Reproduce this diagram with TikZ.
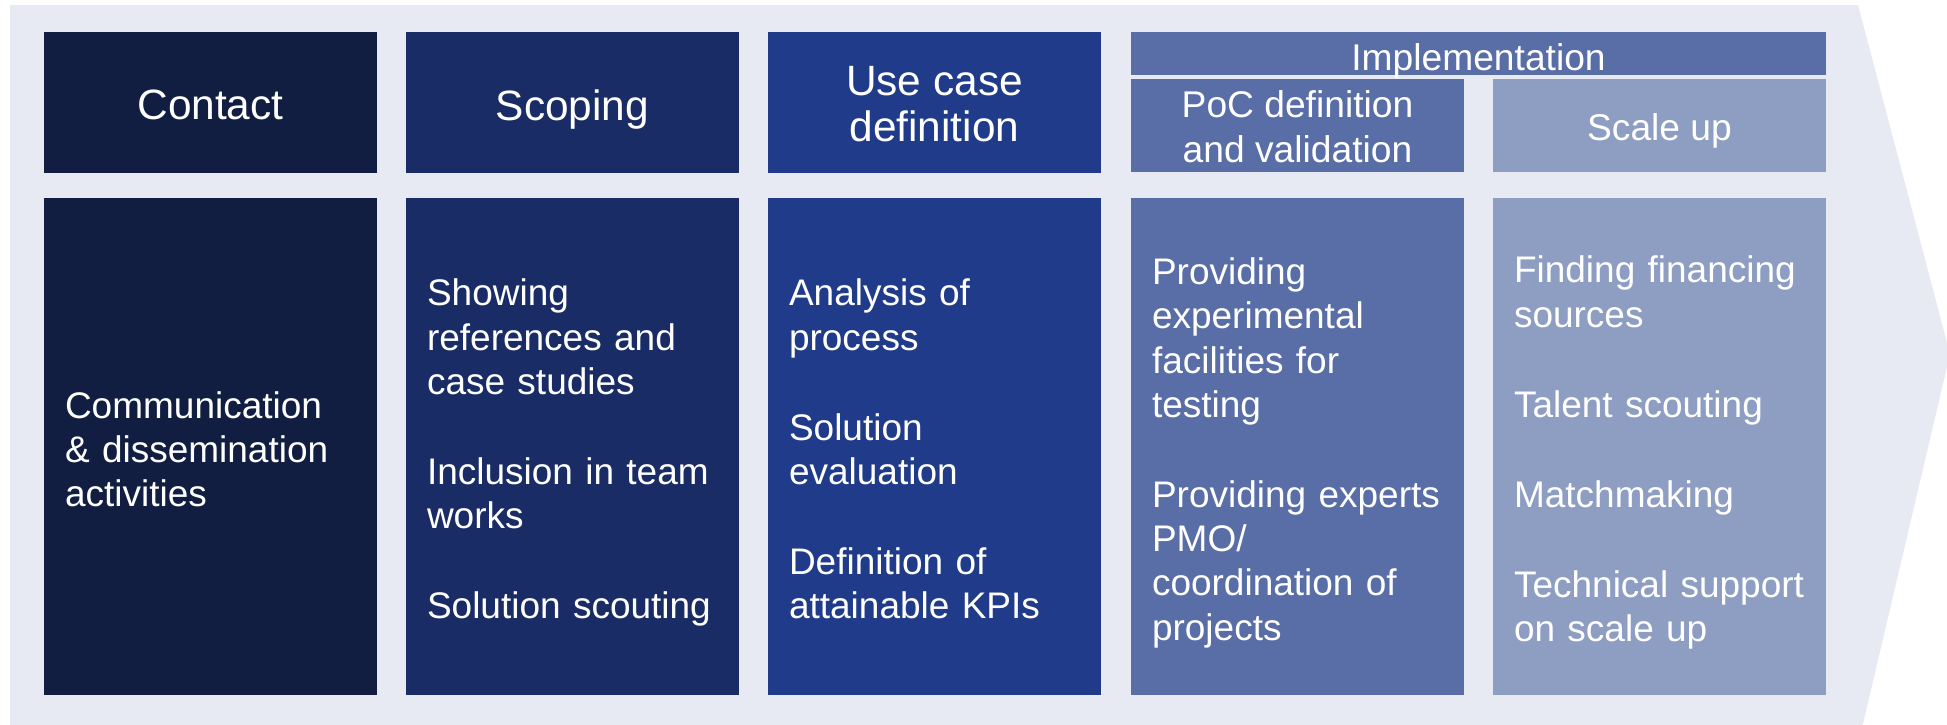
\documentclass[tikz,border=0pt]{standalone}
\usepackage{fontspec}
\setmainfont{Liberation Sans}
\definecolor{bgGray}{HTML}{E7EAF2}
\definecolor{cContact}{HTML}{111E42}
\definecolor{cScoping}{HTML}{1A2C66}
\definecolor{cUseCase}{HTML}{203B89}
\definecolor{cPoC}{HTML}{596DA6}
\definecolor{cScale}{HTML}{8E9DC2}

\begin{document}
\begin{tikzpicture}[x=0.5pt,y=-0.5pt]
  \tikzstyle{Box}=[inner sep=0pt,minimum width=166.5pt,text=white]
  \tikzstyle{Head}=[Box,minimum height=70.5pt,text depth=0pt,align=center,font=\fontsize{21.2}{23}\selectfont]
  \tikzstyle{Sub}=[Box,minimum height=46.5pt,text depth=0pt,align=center,font=\fontsize{18.6}{22.5}\selectfont]
  \tikzstyle{Body}=[Box,minimum height=248.5pt]
  \tikzstyle{BodyText}=[anchor=west,inner sep=0pt,yshift=-3.5pt,text=white,text width=152pt,align=left,font=\fontsize{18.5}{22.1}\selectfont]
  \tikzstyle{Label}=[text=white,inner sep=0pt]
  \clip (0,0) rectangle (1947,724);
  % arrow shaped background
  \fill[bgGray] (10,5) -- (1858,5) -- (1950,354) -- (1862,728) -- (10,728) -- cycle;
  % phase headers
  \node[Head,fill=cContact] (contact) at (210.5,102.5) {};
  \node[Head,fill=cScoping] (scoping) at (572.5,102.5) {};
  \node[Head,fill=cUseCase] (usecase) at (934.5,102.5) {};
  \node[Box,fill=cPoC,minimum width=347.5pt,minimum height=21.5pt] (impl) at (1478.5,53.5) {};
  \node[Sub,fill=cPoC] (poc) at (1297.5,125.5) {};
  \node[Sub,fill=cScale] (scale) at (1659.5,125.5) {};
  \node[Label,text depth=0pt,font=\fontsize{21.2}{23}\selectfont,yshift=-1.2pt] (contactLabel) at (contact) {Contact};
  \node[Label,text depth=0pt,font=\fontsize{21.2}{23}\selectfont,yshift=-1.2pt] (scopingLabel) at (scoping) {Scoping};
  \node[Label,align=center,text depth=0pt,font=\fontsize{21.2}{23}\selectfont,yshift=-0.6pt] (usecaseLabel) at (usecase) {Use case\\definition};
  \node[Label,text depth=0pt,font=\fontsize{18.6}{22.5}\selectfont,yshift=-1.8pt] (implLabel) at (impl) {Implementation};
  \node[Label,align=center,text depth=0pt,font=\fontsize{18.6}{22.5}\selectfont,yshift=-0.6pt] (pocLabel) at (poc) {PoC definition\\and validation};
  \node[Label,text depth=0pt,font=\fontsize{18.6}{22.5}\selectfont,yshift=-0.8pt] (scaleLabel) at (scale) {Scale up};
  % activity columns
  \node[Body,fill=cContact] (contactBody) at (210.5,446.5) {};
  \node[Body,fill=cScoping] (scopingBody) at (572.5,446.5) {};
  \node[Body,fill=cUseCase] (usecaseBody) at (934.5,446.5) {};
  \node[Body,fill=cPoC] (pocBody) at (1297.5,446.5) {};
  \node[Body,fill=cScale] (scaleBody) at (1659.5,446.5) {};
  \node[BodyText] (contactText) at ([xshift=10.5pt]contactBody.west)
    {\strut Communication\\\& dissemination\\activities\strut};
  \node[BodyText] (scopingText) at ([xshift=10.5pt]scopingBody.west)
    {\strut Showing\\references and\\case studies\\[23pt]Inclusion in team\\works\\[23pt]Solution scouting\strut};
  \node[BodyText] (usecaseText) at ([xshift=10.5pt]usecaseBody.west)
    {\strut Analysis of\\process\\[23pt]Solution\\evaluation\\[23pt]Definition of\\attainable KPIs\strut};
  \node[BodyText] (pocText) at ([xshift=10.5pt]pocBody.west)
    {\strut Providing\\experimental\\facilities for\\testing\\[23pt]Providing experts\\PMO/\\coordination of\\projects\strut};
  \node[BodyText] (scaleText) at ([xshift=10.5pt]scaleBody.west)
    {\strut Finding financing\\sources\\[23pt]Talent scouting\\[23pt]Matchmaking\\[23pt]Technical support\\on scale up\strut};
\end{tikzpicture}
\end{document}
